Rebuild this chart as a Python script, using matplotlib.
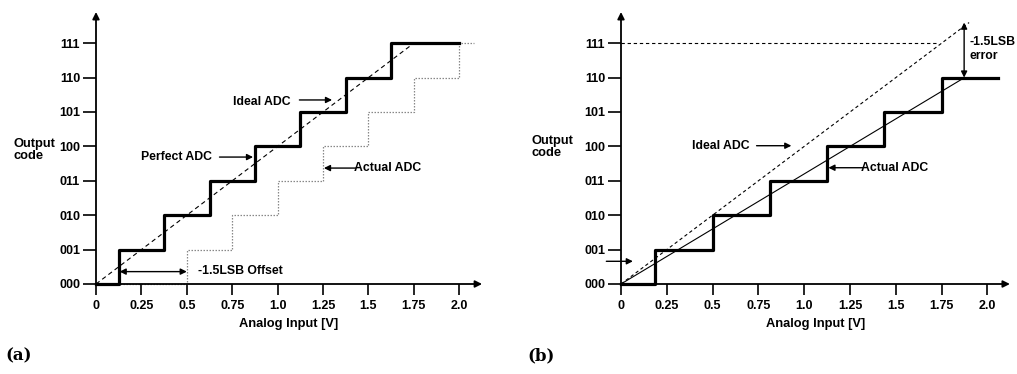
import numpy as np
import matplotlib
matplotlib.use("Agg")
import matplotlib.pyplot as plt

plt.rcParams['font.family'] = ['Liberation Sans', 'DejaVu Sans']
plt.rcParams['font.weight'] = 'bold'

codes = ['000', '001', '010', '011', '100', '101', '110', '111']
x_ticks = [0, 0.25, 0.5, 0.75, 1.0, 1.25, 1.5, 1.75, 2.0]
x_ticklabels = ['0', '0.25', '0.5', '0.75', '1.0', '1.25', '1.5', '1.75', '2.0']

# panel (a): offset error
a_perfect_x = [0, 0.125, 0.375, 0.625, 0.875, 1.125, 1.375, 1.625, 2.0]
a_perfect_code = [0, 1, 2, 3, 4, 5, 6, 7, 7]
a_actual_x = [0, 0.5, 0.75, 1.0, 1.25, 1.5, 1.75, 2.0, 2.08]
a_actual_code = [0, 1, 2, 3, 4, 5, 6, 7, 7]
a_ideal_x = [0, 1.75]
a_ideal_code = [0, 7]

# panel (b): gain error
b_actual_x = [0, 0.1875, 0.5, 0.8125, 1.125, 1.4375, 1.75, 2.06]
b_actual_code = [0, 1, 2, 3, 4, 5, 6, 6]
b_fit_x = [0, 1.875]
b_fit_code = [0, 6]
b_ideal_x = [0, 1.9]
b_ideal_code = [0, 7.6]
b_fullscale_x = [0, 1.72]
b_fullscale_code = [7, 7]

W, H = 1017, 374
fs_tick = 9
fs_lab = 9.3
fs_note = 8.8
fig = plt.figure(figsize=(W / 100, H / 100), dpi=100)


def make_axes(left_px, xmax, px_per_v):
    bottom_px, top_px, right_px = 284, 12, left_px + xmax * px_per_v
    ax = fig.add_axes([left_px / W, (H - bottom_px) / H,
                       (right_px - left_px) / W, (bottom_px - top_px) / H])
    ax.set_xlim(0, xmax)
    ax.set_ylim(0, (bottom_px - top_px) / 34.4)
    for s in ax.spines.values():
        s.set_visible(False)
    ax.set_xticks(x_ticks)
    ax.set_xticklabels(x_ticklabels)
    ax.set_yticks(range(8))
    ax.set_yticklabels(codes)
    ax.tick_params(axis='x', direction='out', length=8, width=1.2, pad=3.5, labelsize=fs_tick)
    ax.tick_params(axis='y', direction='out', length=9.5, width=1.2, pad=2, labelsize=fs_tick)
    ax.set_xlabel('Analog Input [V]', fontsize=fs_lab, fontweight='bold', labelpad=4)
    # axes with arrow heads
    ax.annotate('', xy=(1, 0), xytext=(0, 0), xycoords='axes fraction',
                arrowprops=dict(arrowstyle='-|>', color='k', lw=1.3, mutation_scale=10,
                                shrinkA=0, shrinkB=0), annotation_clip=False)
    ax.annotate('', xy=(0, 1), xytext=(0, 0), xycoords='axes fraction',
                arrowprops=dict(arrowstyle='-|>', color='k', lw=1.3, mutation_scale=10,
                                shrinkA=0, shrinkB=0), annotation_clip=False)
    return ax


def arrow(ax, text_xy, tip_xy, style='-|>'):
    ax.annotate('', xy=tip_xy, xytext=text_xy,
                arrowprops=dict(arrowstyle=style, color='k', lw=1, mutation_scale=9,
                                shrinkA=0, shrinkB=0), annotation_clip=False)


# ---- (a)
ax1 = make_axes(96, 2.126, 181.6)
ax1.step(a_actual_x, a_actual_code, where='post', color='#888888', lw=0.9,
         linestyle=(0, (1.2, 1.2)), clip_on=False)
ax1.plot(a_ideal_x, a_ideal_code, color='k', lw=0.8, linestyle=(0, (4, 3)))
ax1.step(a_perfect_x, a_perfect_code, where='post', color='k', lw=2.3, clip_on=False)

ax1.text(0.755, 5.3, 'Ideal ADC', fontsize=fs_note, va='center')
arrow(ax1, (1.12, 5.35), (1.3, 5.35))
ax1.text(0.25, 3.7, 'Perfect ADC', fontsize=fs_note, va='center')
arrow(ax1, (0.68, 3.69), (0.865, 3.69))
ax1.text(1.42, 3.37, 'Actual ADC', fontsize=fs_note, va='center')
arrow(ax1, (1.43, 3.37), (1.255, 3.37))
arrow(ax1, (0.13, 0.36), (0.5, 0.36), style='<|-|>')
ax1.text(0.56, 0.38, '-1.5LSB Offset', fontsize=fs_note, va='center')

fig.text(13 / W, 1 - 150 / H, 'Output\ncode', fontsize=fs_lab, fontweight='bold',
         va='center', ha='left', linespacing=1.1)
fig.text(5 / W, 1 - 356 / H, '(a)', fontsize=12, fontweight='bold',
         family='DejaVu Serif', va='center')

# ---- (b)
ax2 = make_axes(621, 2.123, 183.2)
ax2.plot(b_fullscale_x, b_fullscale_code, color='k', lw=0.8, linestyle=(0, (3, 2.5)))
ax2.plot(b_ideal_x, b_ideal_code, color='k', lw=0.8, linestyle=(0, (3, 2.5)))
ax2.plot(b_fit_x, b_fit_code, color='k', lw=0.8)
ax2.step(b_actual_x, b_actual_code, where='post', color='k', lw=2.3, clip_on=False)

ax2.text(0.39, 4.0, 'Ideal ADC', fontsize=fs_note, va='center')
arrow(ax2, (0.74, 4.02), (0.93, 4.02))
ax2.text(1.31, 3.38, 'Actual ADC', fontsize=fs_note, va='center')
arrow(ax2, (1.32, 3.38), (1.132, 3.38))
arrow(ax2, (-0.08, 0.66), (0.065, 0.66))
arrow(ax2, (1.873, 7.6), (1.873, 6.0), style='<|-|>')
ax2.text(1.9, 6.82, '-1.5LSB\nerror', fontsize=fs_note, va='center', ha='left',
         linespacing=1.2)

fig.text(532 / W, 1 - 147 / H, 'Output\ncode', fontsize=fs_lab, fontweight='bold',
         va='center', ha='left', linespacing=1.1)
fig.text(527 / W, 1 - 356 / H, '(b)', fontsize=12, fontweight='bold',
         family='DejaVu Serif', va='center')

fig.savefig('out.png', dpi=100)
